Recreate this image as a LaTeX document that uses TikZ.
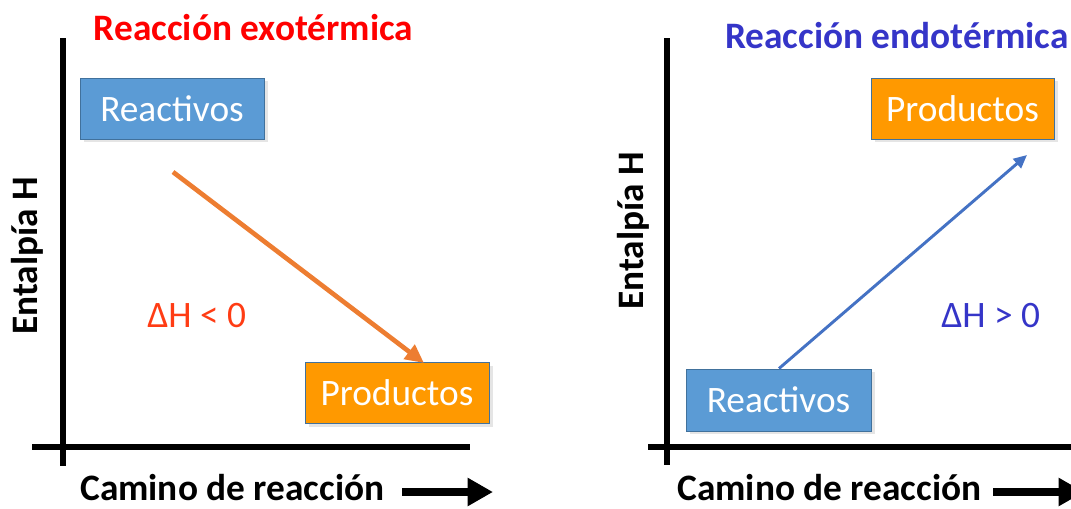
\documentclass[tikz,border=0pt]{standalone}
\usepackage{fontspec}
\setmainfont{Carlito}
\usetikzlibrary{arrows.meta,shadows}
\definecolor{boxblue}{HTML}{5B9BD5}
\definecolor{boxorange}{HTML}{FF9900}
\definecolor{edgeblue}{HTML}{41719C}
\definecolor{arrorange}{HTML}{ED7D31}
\definecolor{arrblue}{HTML}{4472C4}
\definecolor{titlered}{HTML}{FF0000}
\definecolor{titleblue}{HTML}{3535C8}
\definecolor{dhred}{HTML}{FF3C14}
\begin{document}
\begin{tikzpicture}[x=0.75pt,y=-0.75pt,
  txt/.style={font=\fontsize{28}{33}\selectfont, inner sep=0pt},
  bold/.style={txt, font=\fontsize{28}{33}\selectfont\bfseries},
  box/.style={txt, draw=edgeblue, line width=0.75pt, text=white,
    minimum width=184*0.75pt, minimum height=61*0.75pt,
    drop shadow={shadow xshift=3pt, shadow yshift=-2.5pt, fill=black, opacity=0.10}},
  blue box/.style={box, fill=boxblue},
  orange box/.style={box, fill=boxorange},
  axis/.style={line width=4.5pt, black},
  bigarrow/.style={line width=6pt, -{Triangle[length=19pt, width=20pt]}}
]
\useasboundingbox (0,0) rectangle (1071,508);
\clip (0,0) rectangle (1071,508);

% ---------- left panel ----------
\node[bold, text=titlered, anchor=base] (t1) at (253.5,40) {Reacción exotérmica};
\draw[axis] (63,38) -- (63,466);
\draw[axis] (32,447) -- (470,447);
\node[bold, rotate=90, anchor=base] (y1) at (37,256) {Entalpía H};
\node[bold, anchor=base west] (x1) at (80,500) {Camino de reacción};
\coordinate (a1s) at (402,492);
\coordinate (a1e) at (493,492);
\draw[bigarrow] (a1s) -- (a1e);

\node[blue box] (r1) at (172,108.5) {Reactivos};
\node[orange box] (p1) at (397,393) {Productos};
\node[txt, text=dhred, anchor=base west] (d1) at (147,327) {ΔH < 0};
\coordinate (e1s) at (173,172);
\coordinate (e1e) at (424,363);
\draw[arrorange, line width=3.5pt, -{Triangle[length=14pt, width=13pt]}] (e1s) -- (e1e);

% ---------- right panel ----------
\node[bold, text=titleblue, anchor=base] (t2) at (897,48) {Reacción endotérmica};
\draw[axis] (667,38) -- (667,465);
\draw[axis] (648,447) -- (1075,447);
\node[bold, rotate=90, anchor=base] (y2) at (643,231) {Entalpía H};
\node[bold, anchor=base west] (x2) at (677,500) {Camino de reacción};
\coordinate (a2s) at (993,492);
\coordinate (a2e) at (1084,492);
\draw[bigarrow] (a2s) -- (a2e);

\node[blue box, minimum height=62*0.75pt, minimum width=185*0.75pt] (r2) at (778.5,400) {Reactivos};
\node[orange box, minimum width=183*0.75pt] (p2) at (962.5,108.5) {Productos};
\node[txt, text=titleblue, anchor=base west] (d2) at (941,327) {ΔH > 0};
\coordinate (e2e) at (1027,155);
\draw[arrblue, line width=2.2pt, -{Triangle[length=10pt, width=9pt]}] (r2.north -| 779,0) -- (e2e);
\end{tikzpicture}
\end{document}
